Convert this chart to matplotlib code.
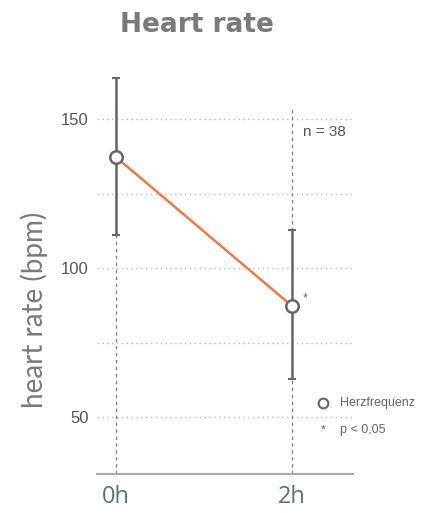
import numpy as np
import matplotlib
matplotlib.use('Agg')
import matplotlib.pyplot as plt

# data
times = [0, 2]
time_labels = ['0h', '2h']
hr_mean = [137.2, 87.2]
hr_upper = [163.8, 112.8]
hr_lower = [111.1, 62.7]
yticks = [50, 100, 150]
grid_levels = [50, 75, 100, 125, 150]

plt.rcParams['font.family'] = ['Liberation Sans', 'DejaVu Sans']
grey = '#7a7a7a'
dark = '#666666'
orange = '#f07a45'

fig = plt.figure(figsize=(4.25, 5.13), dpi=100)
ax = fig.add_axes([97/425, 1-474/513, (353-97)/425, (474-60)/513])

ax.set_xlim(-0.216, 2.69)
ax.set_ylim(30.9, 169.8)

# dotted horizontal grid
for g in grid_levels:
    ax.axhline(g, color='#bbbbbb', lw=1, ls=(0, (1, 2.5)), zorder=0)
# dashed vertical guides
for t in times:
    ax.plot([t, t], [30.9, 153.4], color='#888888', lw=1, ls=(0, (2.5, 2.5)), zorder=1)

ax.plot(times, hr_mean, color=orange, lw=1.8, zorder=2)
yerr = [np.array(hr_mean) - np.array(hr_lower), np.array(hr_upper) - np.array(hr_mean)]
ax.errorbar(times, hr_mean, yerr=yerr, fmt='none', ecolor=dark, elinewidth=1.8,
            capsize=3, capthick=1.5, zorder=3)
ax.plot(times, hr_mean, 'o', ms=9, mfc='white', mec=dark, mew=1.8, zorder=4)

ax.text(times[1] + 0.12, hr_mean[1] + 2.5, '*', color=dark, fontsize=9, ha='left', va='center')
ax.text(times[1] + 0.12, 145.5, 'n = 38', color='#555555', fontsize=11, ha='left', va='center')

# legend-like annotations
ax.plot([times[1] + 0.35], [54.8], 'o', ms=7, mfc='white', mec=dark, mew=1.5, clip_on=False)
ax.text(times[1] + 0.54, 54.8, 'Herzfrequenz', color='#666666', fontsize=9, ha='left', va='center')
ax.text(times[1] + 0.35, 45.5, '*', color='#666666', fontsize=9, ha='center', va='center')
ax.text(times[1] + 0.54, 45.5, 'p < 0,05', color='#666666', fontsize=9, ha='left', va='center')

for s in ['top', 'right', 'left']:
    ax.spines[s].set_visible(False)
ax.spines['bottom'].set_color('#aaaaaa')
ax.spines['bottom'].set_linewidth(1.5)

ax.set_xticks(times)
ax.set_xticklabels(time_labels, fontsize=17, color='#5f7080', family=['Open Sans'])
ax.set_yticks(yticks)
ax.tick_params(axis='y', length=0, labelsize=12, labelcolor='#555555', pad=6)
ax.tick_params(axis='x', length=0, pad=8)

ax.set_ylabel('heart rate (bpm)', fontsize=20, color=grey, family=['Lato'])
ax.yaxis.set_label_coords(-0.19, 0.396)
fig.text(197/425, 1-25/513, 'Heart rate', fontsize=19, fontweight='bold', color=grey,
         ha='center', va='center', family=['DejaVu Sans'])

fig.savefig('out.png', dpi=100)
